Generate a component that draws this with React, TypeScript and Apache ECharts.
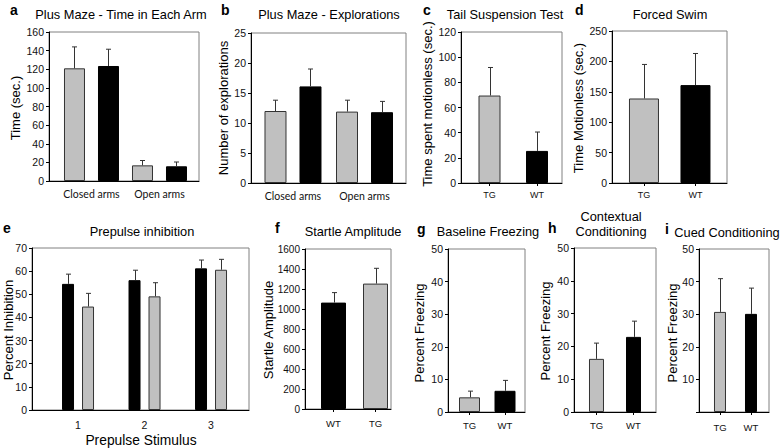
import React, { useEffect, useRef } from "react";
import * as echarts from "echarts";

// ---------- data ----------
const armCats = ["Closed arms", "Open arms"];
const timeTG = [121, 16.8];
const timeTGSem = [23, 5.2];
const timeWT = [123.5, 15.8];
const timeWTSem = [18, 4.6];

const explTG = [12, 11.9];
const explTGSem = [1.8, 1.9];
const explWT = [16.1, 11.8];
const explWTSem = [2.9, 1.8];

const tgWtCats = ["TG", "WT"];
const tailVals = [69.5, 25.5];
const tailSem = [22.3, 15];

const swimVals = [139, 161];
const swimSem = [56, 52];

const ppiCats = ["1", "2", "3"];
const ppiWT = [54.5, 56.1, 61.2];
const ppiWTSem = [4.2, 4.3, 3.6];
const ppiTG = [44.7, 49.1, 60.6];
const ppiTGSem = [5.7, 5.9, 4.5];

const wtTgCats = ["WT", "TG"];
const startleVals = [1064, 1254];
const startleSem = [100, 153];

const baselineVals = [4.5, 6.5];
const baselineSem = [1.9, 3.2];
const contextVals = [16.2, 22.9];
const contextSem = [4.8, 4.8];
const cuedVals = [30.7, 30.1];
const cuedSem = [10.2, 7.9];

// ---------- styling ----------
const GRAY = "#c0c0c0";
const BLACK = "#000000";
const ARIAL = '"Liberation Sans", Arial, sans-serif';
const CAT_FONT = 'Lato, "Liberation Sans", sans-serif';

type S = { vals: number[]; sem: number[]; colors: string[] };
type Panel = {
  letter: string; lx: number; ly: number;
  title: string; tx: number; ty: number;
  yName: string; nx: number; ny: number;
  cats: string[]; series: S[];
  grid: [number, number, number, number];
  xMin: number; xMax: number; yMax: number; yInt: number;
  barW: number; gap: number;
  catFont: string; catSize: number; catMargin: number; xTicks: boolean;
  hideZero?: boolean; tickSize: number;
};

const uni = (c: string, n: number) => Array.from({ length: n }, () => c);

const panels: Panel[] = [
  {
    letter: "a", lx: 10, ly: 10, title: "Plus Maze - Time in Each Arm", tx: 121, ty: 14,
    yName: "Time (sec.)", nx: 15.5, ny: 108, cats: armCats,
    series: [
      { vals: timeTG, sem: timeTGSem, colors: uni(GRAY, 2) },
      { vals: timeWT, sem: timeWTSem, colors: uni(BLACK, 2) },
    ],
    grid: [49, 32, 150, 149], xMin: 0.375, xMax: 2.581, yMax: 160, yInt: 20,
    barW: 21, gap: 13, catFont: CAT_FONT, catSize: 10.5, catMargin: 7, xTicks: false, tickSize: 10.5,
  },
  {
    letter: "b", lx: 221, ly: 10, title: "Plus Maze - Explorations", tx: 329, ty: 14,
    yName: "Number of explorations", nx: 223, ny: 108, cats: armCats,
    series: [
      { vals: explTG, sem: explTGSem, colors: uni(GRAY, 2) },
      { vals: explWT, sem: explWTSem, colors: uni(BLACK, 2) },
    ],
    grid: [251, 33, 155, 150], xMin: 0.413, xMax: 2.58, yMax: 25, yInt: 5,
    barW: 22, gap: 13, catFont: CAT_FONT, catSize: 10.5, catMargin: 7, xTicks: false, tickSize: 10.5,
  },
  {
    letter: "c", lx: 423, ly: 10, title: "Tail Suspension Test", tx: 505, ty: 14,
    yName: "Time spent motionless (sec.)", nx: 427, ny: 104, cats: tgWtCats,
    series: [{ vals: tailVals, sem: tailSem, colors: [GRAY, BLACK] }],
    grid: [461, 32, 101, 151], xMin: 0.4, xMax: 2.526, yMax: 120, yInt: 20,
    barW: 22, gap: 0, catFont: ARIAL, catSize: 9, catMargin: 7, xTicks: true, tickSize: 10.5,
  },
  {
    letter: "d", lx: 575, ly: 10, title: "Forced Swim", tx: 670, ty: 14,
    yName: "Time Motionless (sec.)", nx: 578, ny: 108, cats: tgWtCats,
    series: [{ vals: swimVals, sem: swimSem, colors: [GRAY, BLACK] }],
    grid: [612, 31, 115, 152], xMin: 0.379, xMax: 2.612, yMax: 250, yInt: 50,
    barW: 30, gap: 0, catFont: ARIAL, catSize: 9, catMargin: 7, xTicks: true, tickSize: 10.5,
  },
  {
    letter: "e", lx: 3, ly: 228, title: "Prepulse inhibition", tx: 142, ty: 231,
    yName: "Percent Inhibition", nx: 8.5, ny: 330, cats: ppiCats,
    series: [
      { vals: ppiWT, sem: ppiWTSem, colors: uni(BLACK, 3) },
      { vals: ppiTG, sem: ppiTGSem, colors: uni(GRAY, 3) },
    ],
    grid: [32, 248, 217, 162], xMin: 0.308, xMax: 3.571, yMax: 70, yInt: 10,
    barW: 12, gap: 8, catFont: ARIAL, catSize: 10.5, catMargin: 9, xTicks: false, tickSize: 10.5,
  },
  {
    letter: "f", lx: 275, ly: 228, title: "Startle Amplitude", tx: 353, ty: 231,
    yName: "Startle Amplitude", nx: 268, ny: 330, cats: wtTgCats,
    series: [{ vals: startleVals, sem: startleSem, colors: [BLACK, GRAY] }],
    grid: [305, 249, 86, 160], xMin: 0.321, xMax: 2.369, yMax: 1600, yInt: 200,
    barW: 25, gap: 0, catFont: ARIAL, catSize: 9.5, catMargin: 9, xTicks: true, tickSize: 10,
  },
  {
    letter: "g", lx: 417, ly: 229, title: "Baseline Freezing", tx: 488, ty: 231,
    yName: "Percent Freezing", nx: 419, ny: 333, cats: tgWtCats,
    series: [{ vals: baselineVals, sem: baselineSem, colors: [GRAY, BLACK] }],
    grid: [448, 249, 77, 163], xMin: 0.394, xMax: 2.563, yMax: 50, yInt: 10,
    barW: 21, gap: 0, catFont: ARIAL, catSize: 9.5, catMargin: 8, xTicks: true, tickSize: 10.5,
  },
  {
    letter: "h", lx: 548, ly: 228, title: "Contextual\nConditioning", tx: 611, ty: 224,
    yName: "Percent Freezing", nx: 545, ny: 331, cats: tgWtCats,
    series: [{ vals: contextVals, sem: contextSem, colors: [GRAY, BLACK] }],
    grid: [574, 248, 82, 164], xMin: 0.392, xMax: 2.608, yMax: 50, yInt: 10,
    barW: 15, gap: 0, catFont: ARIAL, catSize: 9.5, catMargin: 8, xTicks: true, tickSize: 10.5,
  },
  {
    letter: "i", lx: 665, ly: 229, title: "Cued Conditioning", tx: 727, ty: 232,
    yName: "Percent Freezing", nx: 672, ny: 333, cats: tgWtCats,
    series: [{ vals: cuedVals, sem: cuedSem, colors: [GRAY, BLACK] }],
    grid: [699, 249, 70, 163], xMin: 0.323, xMax: 2.581, yMax: 50, yInt: 10,
    barW: 12, gap: 0, catFont: ARIAL, catSize: 9.5, catMargin: 10, xTicks: true, tickSize: 10.5,
    hideZero: true,
  },
];

const barStyle = (c: string) =>
  c === GRAY
    ? { color: GRAY, borderColor: "#333333", borderWidth: 1 }
    : { color: BLACK, borderColor: BLACK, borderWidth: 1 };

function buildOption() {
  const grid: any[] = [];
  const xAxis: any[] = [];
  const yAxis: any[] = [];
  const series: any[] = [];
  const graphic: any[] = [];

  panels.forEach((p, gi) => {
    const [left, top, width, height] = p.grid;
    grid.push({ left, top, width, height, show: true, borderColor: "#808080", borderWidth: 1, containLabel: false });
    const positions = p.cats.map((_, k) => k + 1);
    xAxis.push({
      gridIndex: gi, type: "value", min: p.xMin, max: p.xMax,
      splitLine: { show: false },
      axisLine: { show: true, onZero: false, lineStyle: { color: "#000", width: 1 } },
      axisTick: { show: p.xTicks, length: 3, customValues: positions, lineStyle: { color: "#000" } },
      axisLabel: {
        customValues: positions,
        formatter: (v: number) => {
          const k = Math.round(v);
          return Math.abs(v - k) < 1e-6 && k >= 1 && k <= p.cats.length ? p.cats[k - 1] : "";
        },
        fontFamily: p.catFont, fontSize: p.catSize, color: "#111", margin: p.catMargin,
      },
    });
    yAxis.push({
      gridIndex: gi, type: "value", min: 0, max: p.yMax, interval: p.yInt,
      splitLine: { show: false },
      axisLine: { show: true, onZero: false, lineStyle: { color: "#000", width: 1 } },
      axisTick: { show: true, length: 3, lineStyle: { color: "#000" } },
      axisLabel: {
        fontFamily: ARIAL, fontSize: p.tickSize, color: "#111", margin: 5,
        formatter: (v: number) => (p.hideZero && v === 0 ? "" : String(v)),
      },
    });

    const n = p.series.length;
    const offsets = n === 2 ? [-(p.barW + p.gap) / 2, (p.barW + p.gap) / 2] : [0];
    p.series.forEach((s) => {
      series.push({
        type: "bar", xAxisIndex: gi, yAxisIndex: gi,
        barWidth: p.barW, barGap: n === 2 ? `${(p.gap / p.barW) * 100}%` : "0%",
        data: s.vals.map((v, k) => ({ value: [k + 1, v], itemStyle: barStyle(s.colors[k]) })),
        z: 2,
      });
    });
    p.series.forEach((s, si) => {
      const off = offsets[si];
      series.push({
        type: "custom", xAxisIndex: gi, yAxisIndex: gi, z: 3,
        data: s.vals.map((v, k) => [k + 1, v, s.sem[k]]),
        renderItem: (params: any, api: any) => {
          const x = api.value(0), y = api.value(1), e = api.value(2);
          const b = api.coord([x, y]);
          const t = api.coord([x, y + e]);
          const cx = Math.round(b[0] + off) + 0.5;
          const st = { stroke: "#333333", lineWidth: 1 };
          return {
            type: "group",
            children: [
              { type: "line", shape: { x1: cx, y1: b[1], x2: cx, y2: t[1] }, style: st },
              { type: "line", shape: { x1: cx - 2.5, y1: t[1], x2: cx + 2.5, y2: t[1] }, style: st },
            ],
          };
        },
      });
    });

    graphic.push({
      type: "text", x: p.lx, y: p.ly,
      style: { text: p.letter, font: `bold 14px ${ARIAL}`, fill: "#000", textAlign: "left", align: "left", textVerticalAlign: "middle", verticalAlign: "middle" },
    });
    graphic.push({
      type: "text", x: p.tx, y: p.ty,
      style: { text: p.title, font: `12.8px ${ARIAL}`, lineHeight: 15, fill: "#000", textAlign: "center", align: "center", textVerticalAlign: "middle", verticalAlign: "middle" },
    });
    graphic.push({
      type: "text", x: p.nx, y: p.ny, rotation: Math.PI / 2,
      style: { text: p.yName, font: `13px ${ARIAL}`, fill: "#000", textAlign: "center", align: "center", textVerticalAlign: "middle", verticalAlign: "middle" },
    });
  });

  graphic.push({
    type: "text", x: 141, y: 440,
    style: { text: "Prepulse Stimulus", font: `13.8px ${ARIAL}`, fill: "#000", textAlign: "center", align: "center", textVerticalAlign: "middle", verticalAlign: "middle" },
  });

  return { animation: false, backgroundColor: "#ffffff", grid, xAxis, yAxis, series, graphic };
}

export default function App() {
  const ref = useRef<HTMLDivElement>(null);
  useEffect(() => {
    if (!ref.current) return;
    const chart = echarts.init(ref.current, undefined, { renderer: "svg" });
    chart.setOption(buildOption() as any);
    return () => chart.dispose();
  }, []);
  return <div ref={ref} style={{ position: "fixed", left: 0, top: 0, width: 780, height: 448 }} />;
}
